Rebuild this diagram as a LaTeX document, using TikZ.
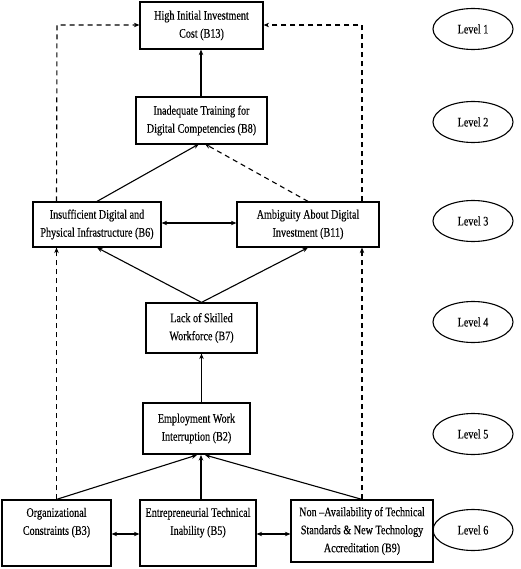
\documentclass[tikz,border=0pt]{standalone}
\usepackage{fontspec}
\setmainfont{Liberation Serif}[FakeStretch=0.78,FakeBold=0.3]
\usetikzlibrary{arrows.meta,shapes.geometric}
\tikzset{
  box/.style={draw, line width=1.2pt, inner sep=0pt, align=center, font=\fontsize{13}{18}\selectfont},
  lvl/.style={draw, ellipse, line width=1.1pt, minimum width=80pt, minimum height=41pt, inner sep=0pt, font=\fontsize{13}{14}\selectfont},
  arr/.style={line width=1.1pt, -{Stealth[length=5.5pt,width=4.5pt]}},
  biarr/.style={line width=1.1pt, {Stealth[length=5.5pt,width=4.5pt]}-{Stealth[length=5.5pt,width=4.5pt]}},
  dasharr/.style={arr, dash pattern=on 5pt off 4pt}
}
\begin{document}
\begin{tikzpicture}[x=1pt,y=-1pt]
\useasboundingbox (0,0) rectangle (520,569);
\node[box, minimum width=123pt, minimum height=47pt] (b13) at (201.5,25.5) {High Initial Investment\\Cost (B13)};
\node[box, minimum width=131pt, minimum height=47pt] (b8) at (201.5,120.5) {Inadequate Training for\\Digital Competencies (B8)};
\node[box, minimum width=128pt, minimum height=45pt] (b6) at (97,224.5) {Insufficient Digital and\\Physical Infrastructure (B6)};
\node[box, minimum width=142pt, minimum height=45pt] (b11) at (308,224.5) {Ambiguity About Digital\\Investment (B11)};
\node[box, minimum width=111pt, minimum height=50pt] (b7) at (201.5,328) {Lack of Skilled\\Workforce (B7)};
\node[box, minimum width=107pt, minimum height=51pt] (b2) at (196.5,428.5) {Employment Work\\Interruption (B2)};
\node[box, minimum width=109pt, minimum height=66pt] (b3) at (56.5,533) {Organizational\\Constraints (B3)\\\strut};
\node[box, minimum width=116pt, minimum height=66pt] (b5) at (198,533) {Entrepreneurial Technical\\Inability (B5)\\\strut};
\node[box, minimum width=142pt, minimum height=62pt] (b9) at (362,531) {Non --Availability of Technical\\Standards \& New Technology\\Accreditation (B9)};

\node[lvl] (l1) at (473,29) {Level 1};
\node[lvl] (l2) at (473,122) {Level 2};
\node[lvl] (l3) at (473,221) {Level 3};
\node[lvl] (l4) at (473,322) {Level 4};
\node[lvl] (l5) at (473,434) {Level 5};
\node[lvl] (l6) at (473,530) {Level 6};

\coordinate (tl) at (57,25);
\coordinate (tr) at (362,25);

% solid arrows
\draw[arr] (b8.north -| 201,0) -- (b13.south -| 201,0);
\draw[arr] (b6.north) -- (199,144);
\draw[dasharr] (b11.north) -- (205,144);
\draw[biarr] (b6.east |- 0,223) -- (b11.west |- 0,223);
\draw[arr] (b7.north) -- (b6.south);
\draw[arr] (b7.north) -- (b11.south);
\draw[arr] (b2.north -| b7.south) -- (b7.south);
\draw[arr] (b3.north) -- (197,455);
\draw[arr] (b5.north -| 201,0) -- (201,455);
\draw[arr] (b9.north) -- (205,455);
\draw[biarr] (b3.east |- 0,534) -- (b5.west |- 0,534);
\draw[biarr] (b5.east |- 0,534) -- (b9.west |- 0,534);

% dashed side lines
\draw[dasharr] (b3.north) -- (b6.south -| b3.north);
\draw[dasharr] (b6.north -| b3.north) -- (tl) -- (b13.west |- tl);
\draw[dasharr] (b9.north) -- (b11.south -| b9.north);
\draw[dasharr] (b11.north -| b9.north) -- (tr) -- (b13.east |- tr);
\end{tikzpicture}
\end{document}
